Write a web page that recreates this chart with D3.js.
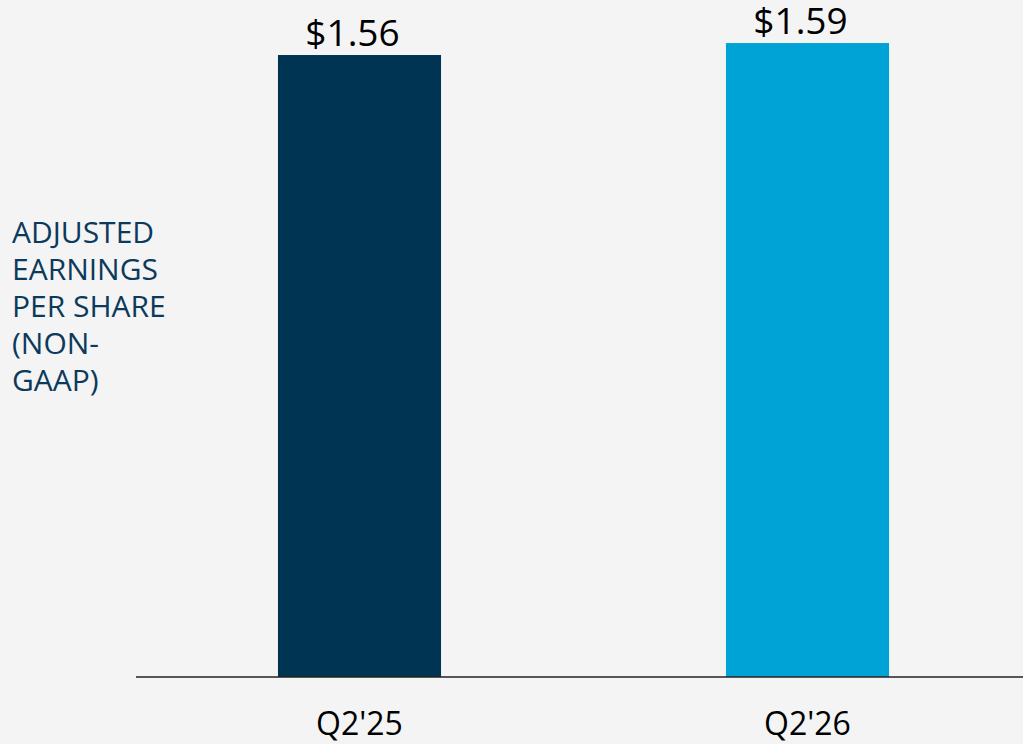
<!DOCTYPE html>
<html><head><meta charset="utf-8">
<script src="https://cdn.jsdelivr.net/npm/d3@7"></script>
<style>html,body{margin:0;padding:0;background:#f4f4f4;}svg{display:block;}</style>
</head><body>
<script>
const categories = ["Q2'25", "Q2'26"];
const values = [1.56, 1.59];
const valueLabels = ["$1.56", "$1.59"];
const barColors = ["#003453", "#00a3d6"];
const yLabelLines = ["ADJUSTED", "EARNINGS", "PER SHARE", "(NON-", "GAAP)"];

const W = 1023, H = 744;
const svg = d3.select("body").append("svg").attr("width", W).attr("height", H);
svg.append("rect").attr("width", W).attr("height", H).attr("fill", "#f4f4f4");

const baseY = 677;
const x = d3.scaleBand().domain(categories).range([135.5, 1031.5])
  .paddingInner(0.636).paddingOuter(0.318);
const y = d3.scaleLinear().domain([0, 1.698]).range([baseY, 0]);

svg.selectAll("rect.bar").data(values).join("rect").attr("class", "bar")
  .attr("x", (d, i) => x(categories[i]))
  .attr("width", x.bandwidth())
  .attr("y", d => y(d))
  .attr("height", d => baseY - y(d))
  .attr("fill", (d, i) => barColors[i]);

svg.selectAll("text.val").data(values).join("text").attr("class", "val")
  .attr("x", (d, i) => x(categories[i]) + x.bandwidth() / 2 - 7)
  .attr("y", d => y(d) - 9.5)
  .attr("text-anchor", "middle")
  .attr("font-family", "'Open Sans', sans-serif")
  .attr("font-size", 37)
  .attr("fill", "#000")
  .text((d, i) => valueLabels[i]);

// x axis
const xAxis = d3.axisBottom(x).tickSize(0).tickPadding(0);
const gx = svg.append("g").attr("transform", `translate(0,${baseY})`).call(xAxis);
gx.select(".domain").remove();
gx.append("line").attr("x1", 136).attr("x2", W).attr("y1", 0).attr("y2", 0)
  .attr("stroke", "#222").attr("stroke-width", 1.5);
gx.selectAll(".tick text")
  .attr("y", 58).attr("dy", 0)
  .attr("font-family", "'Open Sans', sans-serif")
  .attr("font-size", 32)
  .attr("fill", "#000");

// y label
const yl = svg.append("text")
  .attr("font-family", "'Open Sans', sans-serif")
  .attr("font-size", 30)
  .attr("fill", "#0b3a5c");
yl.selectAll("tspan").data(yLabelLines).join("tspan")
  .attr("x", 12)
  .attr("y", (d, i) => 243 + i * 37)
  .text(d => d);
</script>
</body></html>
